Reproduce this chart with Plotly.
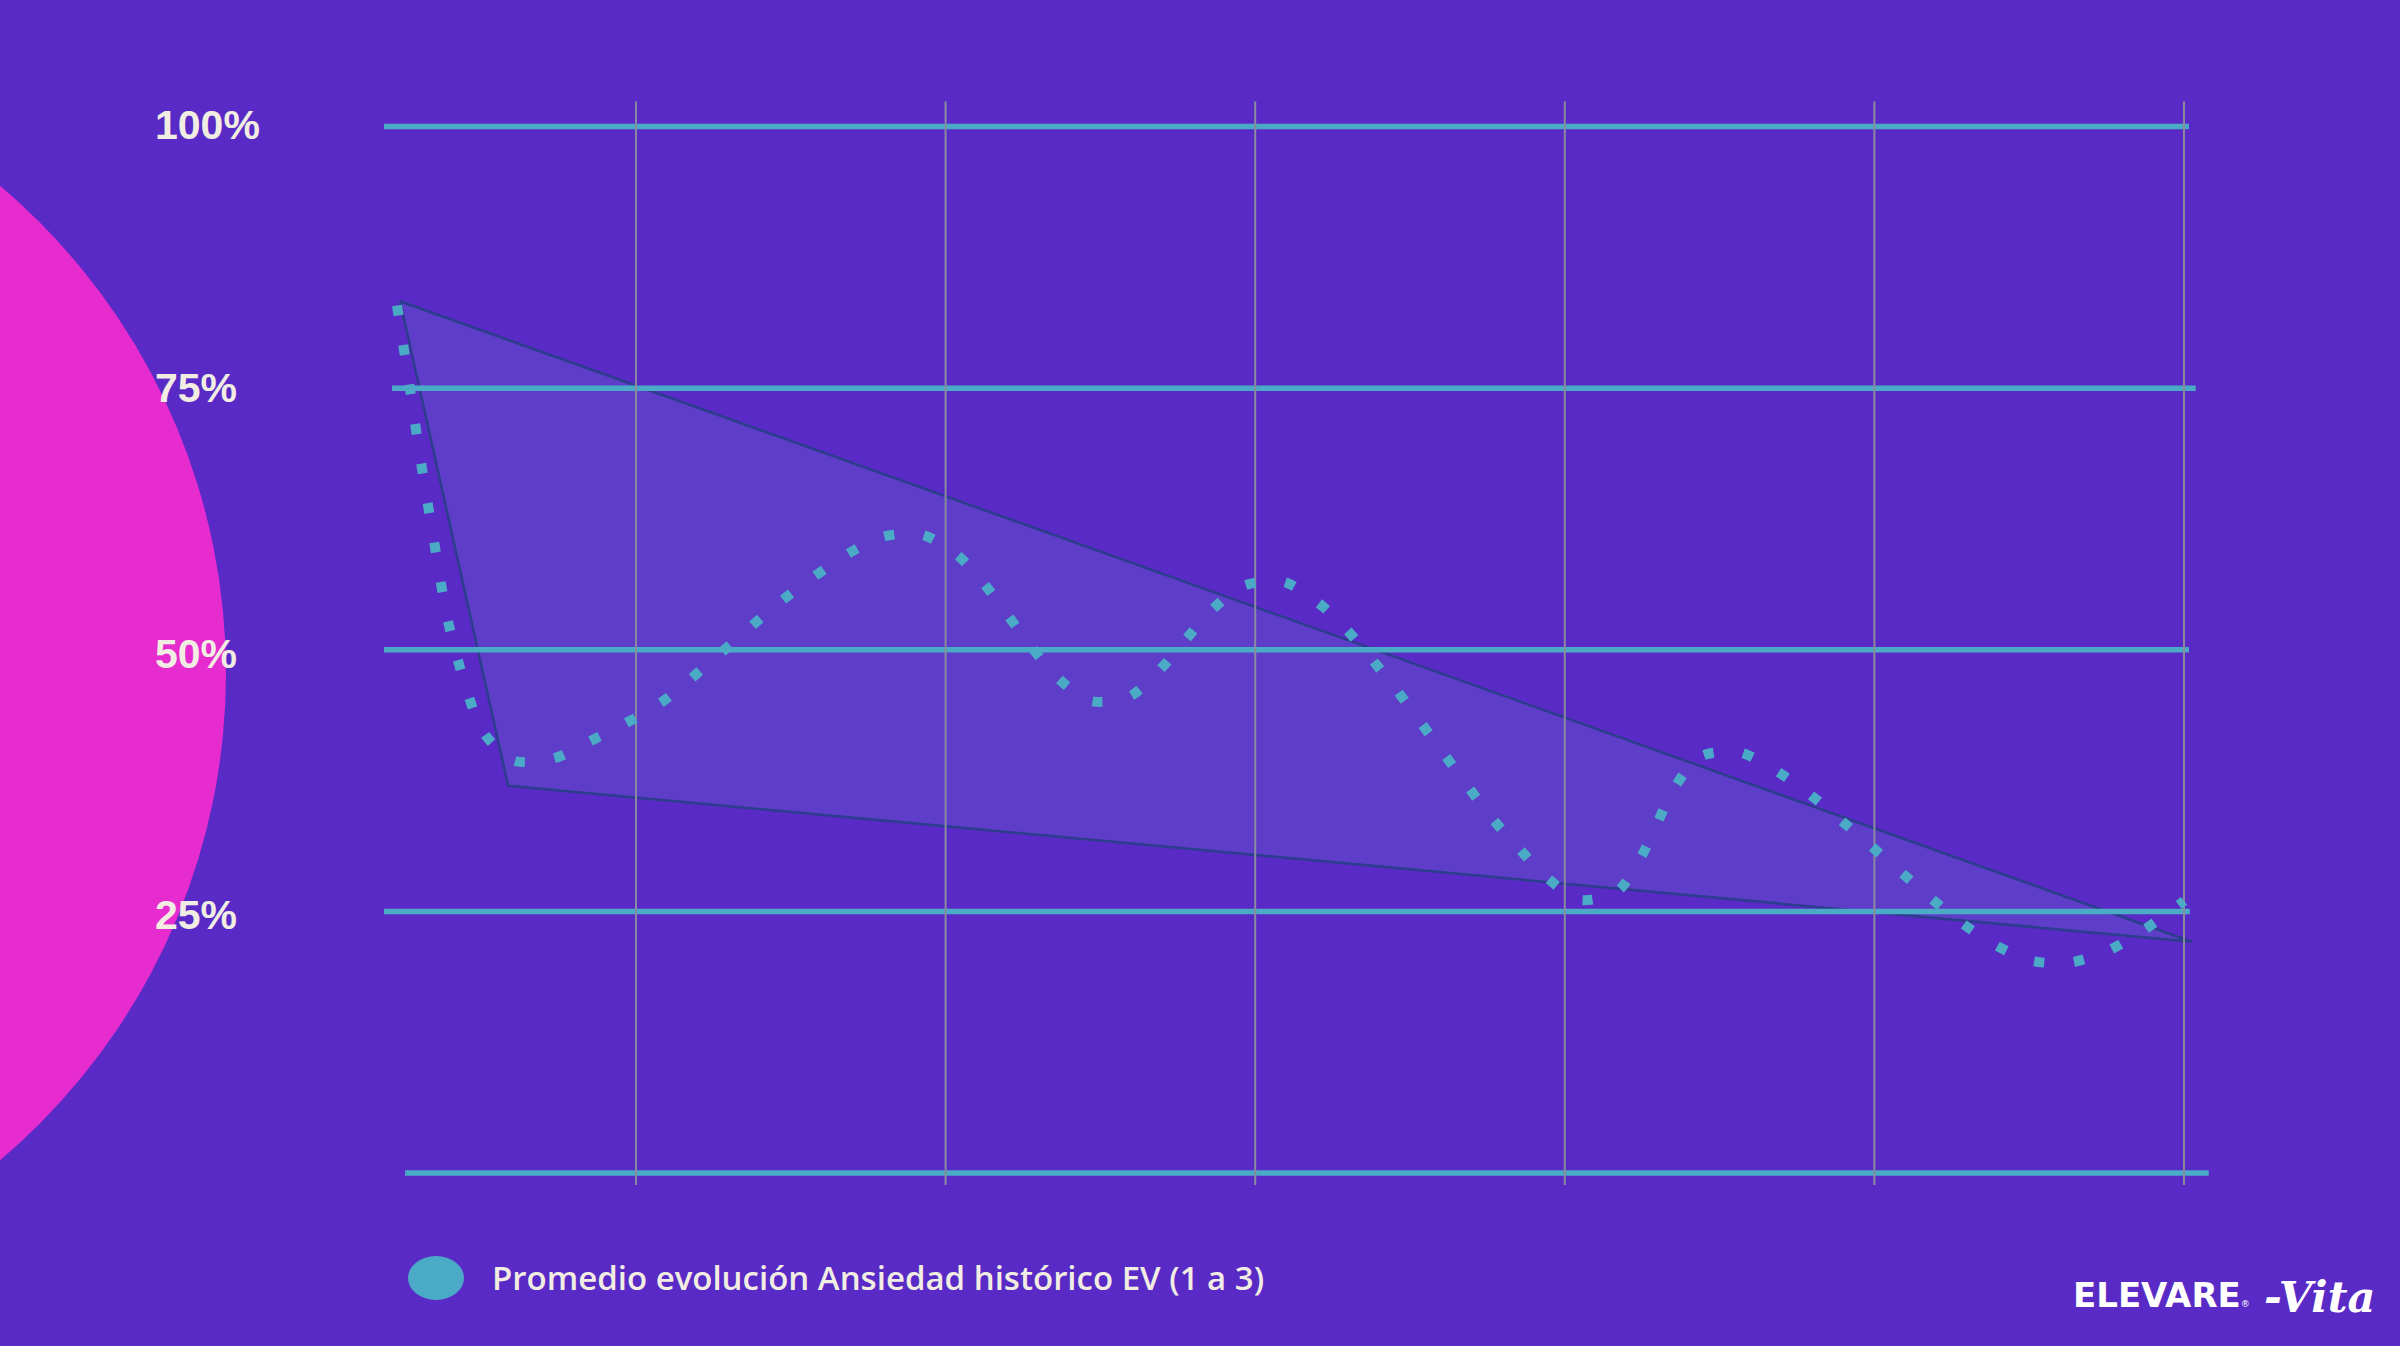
import plotly.graph_objects as go

# ---------------- data ----------------
curve_x = [0.228, 0.267, 0.306, 0.348, 0.393, 0.461, 0.512, 0.606, 0.732, 0.848,
           1.074, 1.274, 1.471, 1.681, 1.797, 1.923, 2.036, 2.124, 2.279, 2.366,
           2.470, 2.592, 2.689, 2.860, 2.960, 3.090, 3.199, 3.293, 3.458, 3.613,
           3.768, 3.852, 3.943, 4.049, 4.169, 4.243, 4.298, 4.356, 4.437, 4.563,
           4.679, 4.786, 4.983, 5.177, 5.277, 5.384, 5.503, 5.629, 5.752, 5.864,
           5.974, 6.000]
curve_y = [82.9, 75.5, 67.8, 60.3, 52.7, 45.4, 41.9, 39.4, 39.6, 41.2,
           44.8, 49.7, 54.7, 59.1, 60.8, 61.0, 59.1, 56.3, 50.2, 47.2,
           45.1, 45.5, 48.0, 53.8, 56.1, 56.5, 54.6, 52.0, 46.1, 39.9,
           33.8, 31.0, 28.2, 26.1, 26.9, 30.0, 33.4, 36.9, 39.8, 40.2,
           38.5, 36.3, 31.4, 26.4, 24.0, 21.9, 20.3, 20.1, 21.2, 23.1,
           25.4, 26.0]

band_x = [0.238, 0.587, 6.025, 0.238]
band_y = [83.3, 37.0, 22.1, 83.3]

grid_values = [100, 75, 50, 25, 0]
grid_start = [0.186, 0.212, 0.186, 0.186, 0.254]
grid_end = [6.016, 6.038, 6.016, 6.019, 6.080]

tick_values = [100, 75, 50, 25]
tick_labels = ["100%", "75%", "50%", "25%"]

vgrid_x = [1, 2, 3, 4, 5, 6]
vgrid_range = [-1.15, 102.4]

legend_label = "Promedio evolución Ansiedad histórico EV (1 a 3)"

# ---------------- styling ----------------
BG = "#5A2AC6"
TEAL = "#4BABC7"
GRAY = "#8A8A9E"
CREAM = "#F2EDE3"
PINK = "#E62BCF"

W, H = 2400, 1346
X_RANGE = [-1.0543, 6.6977]
Y_RANGE = [-16.531, 112.088]

fig = go.Figure()

# band polygon
fig.add_trace(go.Scatter(
    x=band_x, y=band_y, mode="lines", fill="toself",
    fillcolor="rgba(105,110,205,0.30)",
    line=dict(color="#2B3D8C", width=2.5),
    hoverinfo="skip", showlegend=False))

# horizontal teal grid lines
for v, s, e in zip(grid_values, grid_start, grid_end):
    fig.add_trace(go.Scatter(
        x=[s, e], y=[v, v], mode="lines",
        line=dict(color=TEAL, width=5.5),
        hoverinfo="skip", showlegend=False))

# vertical gray grid lines
for xv in vgrid_x:
    fig.add_trace(go.Scatter(
        x=[xv, xv], y=vgrid_range, mode="lines",
        line=dict(color=GRAY, width=2),
        hoverinfo="skip", showlegend=False))

# dotted curve
fig.add_trace(go.Scatter(
    x=curve_x, y=curve_y, mode="lines", name=legend_label,
    line=dict(color=TEAL, width=10, dash="10px,30px", shape="spline", smoothing=0.8),
    showlegend=False))

shapes = [
    # big pink circle on the left
    dict(type="circle", xref="paper", yref="paper", layer="below",
         x0=-1050 / W, x1=226 / W, y0=0.5 - 638 / H, y1=0.5 + 638 / H,
         fillcolor=PINK, line=dict(width=0)),
    # legend ellipse
    dict(type="circle", xref="paper", yref="paper",
         x0=408 / W, x1=464 / W, y0=(H - 1300) / H, y1=(H - 1256) / H,
         fillcolor=TEAL, line=dict(width=0)),
]

label_shift = [2, 0, -4, -4]
annotations = []
for v, lab, sh in zip(tick_values, tick_labels, label_shift):
    annotations.append(dict(
        x=153 / W, xref="paper", y=v, yref="y", xanchor="left", yanchor="middle",
        text="<b>" + lab + "</b>", showarrow=False, yshift=sh,
        font=dict(family="Liberation Sans", size=41, color=CREAM)))

annotations.append(dict(
    x=490 / W, xref="paper", y=(H - 1277) / H, yref="paper",
    xanchor="left", yanchor="middle", text=legend_label, showarrow=False,
    font=dict(family="Open Sans", size=33, color=CREAM, weight=600)))

annotations.append(dict(
    x=2071 / W, xref="paper", y=(H - 1295) / H, yref="paper",
    xanchor="left", yanchor="middle",
    text="<b>ELEVARE</b><span style='font-size:9px'>®</span>", showarrow=False,
    font=dict(family="DejaVu Sans", size=34, color="white")))

annotations.append(dict(
    x=2262 / W, xref="paper", y=(H - 1297) / H, yref="paper",
    xanchor="left", yanchor="middle",
    text="<b><i>-Vita</i></b>", showarrow=False,
    font=dict(family="DejaVu Serif", size=43, color="white")))

fig.update_layout(
    width=W, height=H,
    margin=dict(l=0, r=0, t=0, b=0),
    paper_bgcolor=BG, plot_bgcolor=BG,
    xaxis=dict(range=X_RANGE, visible=False, fixedrange=True),
    yaxis=dict(range=Y_RANGE, visible=False, fixedrange=True),
    showlegend=False,
    shapes=shapes,
    annotations=annotations,
)

fig.write_html(
    "out.html",
    config={"displayModeBar": False},
    post_script="document.body.style.margin='0';document.body.style.overflow='hidden';",
)
